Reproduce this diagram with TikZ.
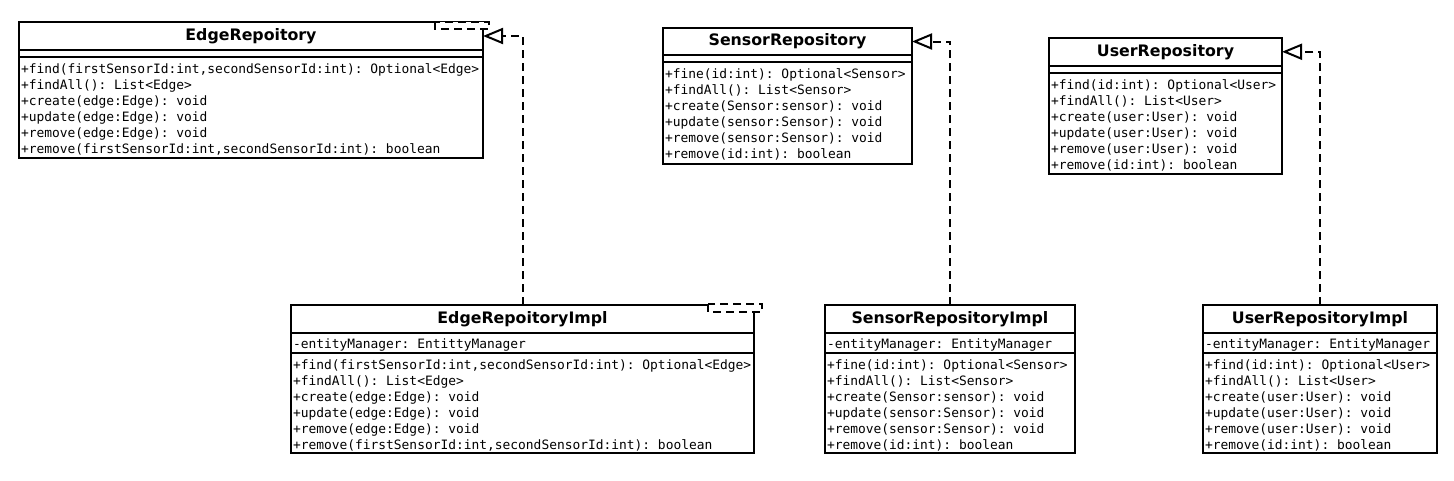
\documentclass[tikz,border=0pt]{standalone}
\usepackage{fontspec}
\setmainfont{DejaVu Sans}
\newfontfamily\monof{DejaVu Sans Mono}
\usetikzlibrary{arrows.meta}
\frenchspacing
\tikzset{
  clsbox/.style={draw, line width=2pt, anchor=north west, inner sep=0pt, outer sep=0pt},
  clstitle/.style={anchor=north west, inner sep=0pt, outer sep=0pt, font=\fontsize{15.8}{19}\selectfont\bfseries},
  members/.style={anchor=north west, inner sep=0pt, outer sep=0pt, align=left, font=\fontsize{12.9}{16}\selectfont\monof\frenchspacing},
  sepline/.style={line width=2pt},
  realize/.style={line width=2pt, dash pattern=on 8pt off 5pt, -{Triangle[open, length=20pt, width=16pt]}},
  ghost/.style={draw, line width=2pt, dash pattern=on 8pt off 5pt, fill=white},
}
\begin{document}
\begin{tikzpicture}[x=1pt, y=-1pt]
\useasboundingbox (0,0) rectangle (1454,480);

% ---------- EdgeRepoitory ----------
\node[clsbox, minimum width=464pt, minimum height=136pt] (er) at (19,22) {};
\node[clstitle, minimum width=464pt, minimum height=28pt] (ert) at (19,22) {EdgeRepoitory};
\draw[sepline] (19,50) -- (483,50);
\draw[sepline] (19,57) -- (483,57);
\node[members] (erm) at (21,64) {+find(firstSensorId:int,secondSensorId:int): Optional<Edge>\\+findAll(): List<Edge>\\+create(edge:Edge): void\\+update(edge:Edge): void\\+remove(edge:Edge): void\\+remove(firstSensorId:int,secondSensorId:int): boolean};

% ---------- SensorRepository ----------
\node[clsbox, minimum width=249pt, minimum height=136pt] (sr) at (663,28) {};
\node[clstitle, minimum width=249pt, minimum height=27pt] (srt) at (663,28) {SensorRepository};
\draw[sepline] (663,55) -- (912,55);
\draw[sepline] (663,62) -- (912,62);
\node[members] (srm) at (665,69) {+fine(id:int): Optional<Sensor>\\+findAll(): List<Sensor>\\+create(Sensor:sensor): void\\+update(sensor:Sensor): void\\+remove(sensor:Sensor): void\\+remove(id:int): boolean};

% ---------- UserRepository ----------
\node[clsbox, minimum width=233pt, minimum height=136pt] (ur) at (1049,38) {};
\node[clstitle, minimum width=233pt, minimum height=27.5pt] (urt) at (1049,38) {UserRepository};
\draw[sepline] (1049,65.5) -- (1282,65.5);
\draw[sepline] (1049,72.5) -- (1282,72.5);
\node[members] (urm) at (1051,79.5) {+find(id:int): Optional<User>\\+findAll(): List<User>\\+create(user:User): void\\+update(user:User): void\\+remove(user:User): void\\+remove(id:int): boolean};

% ---------- EdgeRepoitoryImpl ----------
\node[clsbox, minimum width=463pt, minimum height=148pt] (eri) at (291,305) {};
\node[clstitle, minimum width=463pt, minimum height=28pt] (erit) at (291,305) {EdgeRepoitoryImpl};
\draw[sepline] (291,333) -- (754,333);
\draw[sepline] (291,353) -- (754,353);
\node[members] (eria) at (293,339) {-entityManager: EntittyManager};
\node[members] (erim) at (293,360) {+find(firstSensorId:int,secondSensorId:int): Optional<Edge>\\+findAll(): List<Edge>\\+create(edge:Edge): void\\+update(edge:Edge): void\\+remove(edge:Edge): void\\+remove(firstSensorId:int,secondSensorId:int): boolean};

% ---------- SensorRepositoryImpl ----------
\node[clsbox, minimum width=250pt, minimum height=148pt] (sri) at (825,305) {};
\node[clstitle, minimum width=250pt, minimum height=28pt] (srit) at (825,305) {SensorRepositoryImpl};
\draw[sepline] (825,333) -- (1075,333);
\draw[sepline] (825,353) -- (1075,353);
\node[members] (sria) at (827,339) {-entityManager: EntityManager};
\node[members] (srim) at (827,360) {+fine(id:int): Optional<Sensor>\\+findAll(): List<Sensor>\\+create(Sensor:sensor): void\\+update(sensor:Sensor): void\\+remove(sensor:Sensor): void\\+remove(id:int): boolean};

% ---------- UserRepositoryImpl ----------
\node[clsbox, minimum width=234pt, minimum height=148pt] (uri) at (1203,305) {};
\node[clstitle, minimum width=234pt, minimum height=28pt] (urit) at (1203,305) {UserRepositoryImpl};
\draw[sepline] (1203,333) -- (1437,333);
\draw[sepline] (1203,353) -- (1437,353);
\node[members] (uria) at (1205,339) {-entityManager: EntityManager};
\node[members] (urim) at (1205,360) {+find(id:int): Optional<User>\\+findAll(): List<User>\\+create(user:User): void\\+update(user:User): void\\+remove(user:User): void\\+remove(id:int): boolean};

% ---------- stray dashed boxes ----------
\draw[ghost] (435,22) rectangle (489,29);
\draw[ghost] (708,304) rectangle (762,312);

% ---------- realizations ----------
\draw[realize] (eri.north) |- (ert.east);
\draw[realize] (sri.north) |- (srt.east);
\draw[realize] (uri.north) |- (urt.east);
\end{tikzpicture}
\end{document}
